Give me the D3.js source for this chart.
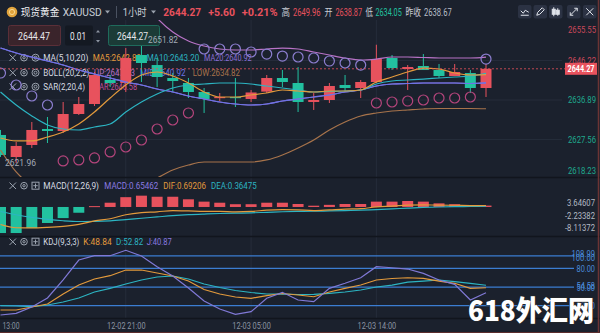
<!DOCTYPE html>
<html><head><meta charset="utf-8">
<script src="https://cdn.jsdelivr.net/npm/d3@7"></script>
<style>
html,body{margin:0;padding:0;background:#1b212d;overflow:hidden}
svg{display:block;font-family:Roboto,"Noto Sans CJK SC",sans-serif}
</style></head><body>
<svg id="c" width="600" height="333"></svg>
<script>
// ---- XAUUSD 1h candles, 12-02 13:00 .. 12-03 21:00 ----
const openP  = [2628.62,2623.41,2626.25,2630.03,2629.56,2633.58,2635.94,2641.62,2640.91,2647.53,2645.16,2642.09,2640.91,2638.78,2637.36,2637.60,2637.13,2638.87,2642.09,2640.91,2636.42,2636.89,2640.44,2639.73,2641.15,2646.82,2644.22,2644.93,2643.98,2642.56,2643.27,2639.73];
const highP  = [2629.80,2626.96,2631.69,2632.87,2636.42,2637.60,2643.51,2642.80,2649.18,2651.82,2646.82,2643.27,2642.09,2639.73,2638.54,2642.09,2639.25,2642.80,2643.98,2644.69,2638.54,2640.91,2642.80,2641.62,2649.96,2647.53,2645.16,2647.76,2645.40,2645.40,2643.98,2645.40];
const lowP   = [2623.41,2621.96,2625.54,2626.72,2629.09,2633.34,2635.47,2639.96,2638.78,2641.15,2639.96,2638.78,2637.36,2633.82,2636.65,2635.24,2636.42,2638.54,2639.96,2634.05,2634.53,2636.18,2638.78,2637.36,2640.91,2643.98,2639.25,2643.98,2642.09,2642.56,2638.54,2637.60];
const closeP = [2623.89,2626.02,2629.80,2629.56,2633.58,2635.94,2642.80,2640.91,2646.82,2645.64,2642.33,2641.38,2638.78,2637.13,2637.60,2637.36,2638.67,2642.09,2641.15,2636.42,2636.89,2640.20,2639.73,2641.15,2646.58,2644.45,2644.69,2643.98,2642.56,2643.51,2639.73,2644.27];

// moving averages
const ma5  = [2627.91,2627.20,2627.20,2628.14,2629.33,2631.22,2634.05,2637.36,2640.44,2642.80,2643.51,2642.56,2640.91,2638.78,2637.60,2637.60,2638.07,2638.54,2639.25,2639.02,2638.78,2639.02,2639.02,2639.25,2641.15,2642.33,2643.51,2644.45,2644.22,2643.27,2642.80,2642.89];
const ma10 = [2638.78,2635.71,2633.11,2630.98,2630.03,2629.80,2630.51,2631.22,2634.05,2636.42,2638.31,2639.73,2640.44,2640.67,2640.91,2640.91,2640.67,2640.20,2639.73,2639.25,2638.78,2638.90,2639.02,2639.25,2640.67,2641.38,2641.62,2641.85,2642.09,2642.33,2642.56,2643.20];
const ma20 = [2649.18,2648.00,2647.05,2646.11,2645.16,2643.98,2643.04,2642.09,2641.15,2640.44,2639.49,2638.78,2637.84,2637.13,2636.42,2635.94,2635.71,2635.94,2636.65,2637.13,2637.60,2638.07,2638.78,2639.25,2640.20,2640.67,2640.79,2640.91,2640.91,2640.91,2640.79,2640.92];
// Bollinger bands (mid = ma20)
const bollUp  = [2673.30,2675.19,2676.61,2677.08,2676.13,2673.77,2670.93,2667.62,2664.31,2661.00,2656.27,2652.97,2650.84,2649.66,2648.95,2648.71,2648.71,2648.95,2649.18,2648.95,2648.24,2647.53,2646.82,2646.35,2646.58,2647.06,2647.06,2646.94,2646.82,2646.82,2646.82,2647.03];
const bollLow = [2625.07,2619.87,2616.56,2614.20,2613.25,2613.25,2613.72,2614.43,2615.61,2616.56,2618.45,2620.34,2621.52,2622.23,2622.23,2622.23,2622.23,2622.71,2623.89,2625.54,2627.43,2629.80,2631.69,2633.11,2633.82,2634.29,2634.53,2634.76,2634.88,2634.88,2634.88,2634.82];
// parabolic SAR
const sar = [2643.27,2640.44,2637.84,2635.71,2622.47,2622.71,2623.18,2624.60,2625.78,2627.43,2630.03,2632.16,2633.82,2648.95,2648.95,2648.95,2648.24,2647.76,2647.29,2647.06,2646.82,2646.11,2645.64,2645.16,2636.18,2636.42,2636.65,2636.89,2637.36,2637.36,2637.60,2646.58];

// MACD(12,26,9)
const macdHist = [-12.2,-12.2,-9.9,-7.5,-5.2,-2.7,0.4,2.0,4.6,5.3,4.8,4.8,3.6,2.5,2.0,1.3,1.3,2.0,2.0,1.4,0.6,1.0,1.4,1.4,2.5,2.5,2.8,2.5,1.7,1.3,0.8,0.65462];
const dif = [-8.2,-9.73,-9.82,-9.56,-9.06,-8.15,-6.55,-5.50,-3.63,-2.62,-2.27,-1.67,-1.82,-2.06,-2.06,-2.25,-2.09,-1.49,-1.24,-1.36,-1.69,-1.36,-0.99,-0.81,0.05,0.36,0.86,1.02,0.84,0.80,0.65,0.69206];
const dea = [-2.1,-3.63,-4.87,-5.81,-6.46,-6.80,-6.75,-6.50,-5.93,-5.27,-4.67,-4.07,-3.62,-3.31,-3.06,-2.90,-2.74,-2.49,-2.24,-2.06,-1.99,-1.86,-1.69,-1.51,-1.20,-0.89,-0.54,-0.23,-0.01,0.15,0.25,0.36475];

// KDJ(9,3,3)
const kdjK = [13.1,13.1,17.9,22.7,38.8,53.2,62.9,68.2,77.3,77.3,72.5,67.7,59.6,46.0,38.8,34.0,31.9,36.1,39.6,37.2,34.4,42.0,47.9,53.2,61.3,63.7,64.9,64.0,59.6,56.0,47.9,48.84];
const kdjD = [20.0,19.5,18.4,21.1,25.9,32.4,42.0,47.9,54.8,61.3,66.1,67.7,62.9,54.8,49.2,44.4,41.2,38.8,38.5,38.0,38.3,39.9,42.0,45.2,50.0,53.2,58.0,59.6,61.3,58.8,56.0,52.82];
const kdjJ = [5.1,7.8,17.9,32.4,61.3,93.4,100.3,100.3,108.99,99.8,82.6,67.7,48.4,27.5,14.7,6.2,10.4,31.9,41.5,29.1,26.4,47.9,56.0,64.9,82.6,81.0,78.9,72.0,61.3,54.3,29.1,40.87];

// axis ticks and labels
const priceTicks = [2655.55,2646.22,2636.89,2627.56,2618.23];
const macdTicks = [3.64607,-2.23382,-8.11372];
const kdjLines = [100,80,50,20];
const kdjLabels = ["108.99","100.00","80.00","54.58","50.00","20.00"];
const kdjLabelAt = [100,100,80,50,50,20];
const kdjLabelNudge = [-1.8,1.6,0,-1.2,1.2,0];
const timeIdx = [0,8,16,24];
const timeLabels = ["13:00","12-02 21:00","12-03 05:00","12-03 14:00"];

const lastPrice = 2644.27;

const C = {
  bg:'#1b212d', grid:'#262d3b', up:'#e8525d', down:'#22c1a0', text:'#d6dae2', dim:'#8b93a1',
  ma5:'#e39a3c', ma10:'#2cb4c2', ma20:'#8a6fd6', mid:'#6d73e6', bup:'#b873c6', blow:'#a7734b',
  sarHi:'#8c7ed0', sarLo:'#b5457c', kline:'#3b7dd1', klab:'#4a8ad9'
};

const svg = d3.select('#c');
svg.append('rect').attr('width',600).attr('height',333).attr('fill',C.bg);

// text helper: fixed run width so labels sit exactly where they belong
function txt(parent, xx, y, s, o){
  o = o || {};
  const t = parent.append('text').attr('x',xx).attr('y',y).attr('dy','0.35em')
    .attr('font-size',o.size||9).attr('fill',o.fill||C.text)
    .attr('text-anchor',o.anchor||'start').text(s);
  if(o.weight) t.attr('font-weight',o.weight);
  if(o.family) t.attr('font-family',o.family);
  if(o.w) t.attr('textLength',o.w).attr('lengthAdjust','spacingAndGlyphs');
  return t;
}

const n = closeP.length;
const x = d3.scaleLinear().domain([0,n-1]).range([0.5,486]);
const yP = d3.scaleLinear().domain([2618.23,2655.55]).range([178.9,21.1]);
const yM = d3.scaleLinear().domain([-8.11372,3.64607]).range([224.3,199.2]);
const yK = d3.scaleLinear().domain([20,100]).range([305.7,255.9]);
const idx = d3.range(n);

const defs = svg.append('defs');
const clip = (id,y0,y1)=>defs.append('clipPath').attr('id',id).append('rect').attr('x',0).attr('y',y0).attr('width',540).attr('height',y1-y0);
clip('cMain',20,177); clip('cMacd',178,236); clip('cKdj',237,318);

// ---- grid ----
const grid = svg.append('g');
grid.selectAll('line.h').data(priceTicks.slice(1,4)).join('line')
  .attr('x1',0).attr('x2',562).attr('y1',d=>yP(d)).attr('y2',d=>yP(d))
  .attr('stroke',C.grid).attr('stroke-width',1);
grid.selectAll('line.v').data(timeIdx.slice(1)).join('line')
  .attr('x1',d=>x(d)).attr('x2',d=>x(d)).attr('y1',20).attr('y2',318)
  .attr('stroke',C.grid).attr('stroke-width',1);
[177.5,236.5,318.5].forEach(y=>svg.append('line').attr('x1',0).attr('x2',600).attr('y1',y).attr('y2',y).attr('stroke','#11151d').attr('stroke-width',1.5));

// ---- legend rows (beneath the marks) ----
function icons(y, third){
  const g = svg.append('g').attr('stroke','#9aa2ae').attr('fill','none').attr('stroke-width',1);
  g.append('path').attr('d',`M9.5,${y-3.5}L16,${y+3}M16,${y-3.5}L9.5,${y+3}`);
  g.append('circle').attr('cx',24).attr('cy',y-0.3).attr('r',3.3);
  g.append('circle').attr('cx',24).attr('cy',y-0.3).attr('r',1.2);
  if(third==='eye'){
    g.append('circle').attr('cx',35.5).attr('cy',y-0.3).attr('r',3.5);
    g.append('circle').attr('cx',35.5).attr('cy',y-0.3).attr('r',1.5);
  } else {
    g.append('rect').attr('x',32).attr('y',y-3.8).attr('width',7).attr('height',7);
    g.append('path').attr('d',`M35.5,${y-2.5}V${y+2}M33.3,${y-0.3}H37.7`);
  }
}
const leg = svg.append('g');
function legend(y, items){ items.forEach(([s,c,x0,x1])=>txt(leg,x0,y,s,{fill:c,w:x1-x0,size:9})); }
icons(58,'eye'); icons(73,'eye'); icons(87,'eye');
legend(58,[["MA(5,10,20)",C.text,43.3,88.3],["MA5:2642.89",C.ma5,92.7,141],["MA10:2643.20",C.ma10,146.7,199.3],["MA20:2640.92",C.ma20,204,251.7]]);
legend(73,[["BOLL(20,2,2)",C.text,43.3,89.3],["UP:2647.03",C.bup,94,135],["MID:2640.92",C.mid,140,185.5],["LOW:2634.82",C.blow,192.7,240]]);
legend(87,[["SAR(2,20,4)",C.text,43.3,85],["SAR:2646.58",'#c0509a',95,137]]);

// ---- main panel ----
const main = svg.append('g').attr('clip-path','url(#cMain)');
const candles = main.append('g');
candles.selectAll('line').data(idx).join('line')
  .attr('x1',i=>x(i)).attr('x2',i=>x(i))
  .attr('y1',i=>yP(highP[i])).attr('y2',i=>yP(lowP[i]))
  .attr('stroke',i=>closeP[i]>=openP[i]?C.up:C.down).attr('stroke-width',1);
candles.selectAll('rect').data(idx).join('rect')
  .attr('x',i=>x(i)-5.5).attr('width',11)
  .attr('y',i=>yP(Math.max(openP[i],closeP[i])))
  .attr('height',i=>Math.max(1.2,Math.abs(yP(openP[i])-yP(closeP[i]))))
  .attr('fill',i=>closeP[i]>=openP[i]?C.up:C.down);

const lineP = arr => d3.line().x((d,i)=>x(i)).y(d=>yP(d)).curve(d3.curveMonotoneX)(arr);
[[bollLow,C.blow],[bollUp,C.bup],[ma20,C.ma20],[ma20,C.mid],[ma10,C.ma10],[ma5,C.ma5]].forEach(([a,c])=>
  main.append('path').attr('d',lineP(a)).attr('fill','none').attr('stroke',c).attr('stroke-width',1.2));

// SAR dots: above price in downtrend, below in uptrend
main.selectAll('circle.sar').data(idx).join('circle')
  .attr('cx',i=>x(i)).attr('cy',i=>yP(sar[i])).attr('r',5)
  .attr('fill','none').attr('stroke-width',1.2)
  .attr('stroke',i=>sar[i]>closeP[i]?C.sarHi:C.sarLo);

// last price line
svg.append('line').attr('x1',0).attr('x2',565).attr('y1',yP(lastPrice)).attr('y2',yP(lastPrice))
  .attr('stroke',C.up).attr('stroke-dasharray','2,2').attr('stroke-width',1).attr('opacity',0.8);

// price axis
const pAxis = svg.append('g').attr('transform','translate(596,0)')
  .call(d3.axisRight(yP).tickValues(priceTicks).tickSize(0).tickFormat(d=>d.toFixed(2)));
pAxis.select('.domain').remove();
pAxis.selectAll('text').attr('x',0).attr('text-anchor','end').attr('font-size',9).attr('font-family','Roboto,sans-serif')
  .attr('textLength',28).attr('lengthAdjust','spacingAndGlyphs')
  .attr('fill',d=>d>lastPrice?'#c9485a':'#1fa98e')
  .attr('y',d=>{const y=yP(d); return y<30?30-y:(y>171?171-y:0);});
// current price tag
svg.append('rect').attr('x',565).attr('y',yP(lastPrice)-6).attr('width',32).attr('height',12).attr('fill',C.up);
txt(svg,581,yP(lastPrice),lastPrice.toFixed(2),{anchor:'middle',size:9,weight:700,fill:'#fff',w:27});

// ---- MACD panel ----
icons(186,'box');
legend(186,[["MACD(12,26,9)",C.text,43.3,99],["MACD:0.65462",'#8a7ae0',104.3,158.3],["DIF:0.69206",C.ma5,163.3,206],["DEA:0.36475",C.ma10,211,256.7]]);
const mg = svg.append('g').attr('clip-path','url(#cMacd)');
mg.selectAll('rect').data(idx).join('rect')
  .attr('x',i=>x(i)-5.5).attr('width',11)
  .attr('y',i=>Math.min(yM(0),yM(macdHist[i])))
  .attr('height',i=>Math.max(1,Math.abs(yM(macdHist[i])-yM(0))))
  .attr('fill',i=>macdHist[i]>=0?C.up:C.down);
const lineM = arr => d3.line().x((d,i)=>x(i)).y(d=>yM(d)).curve(d3.curveMonotoneX)(arr);
mg.append('path').attr('d',lineM(dea)).attr('fill','none').attr('stroke',C.ma10).attr('stroke-width',1.2);
mg.append('path').attr('d',lineM(dif)).attr('fill','none').attr('stroke',C.ma5).attr('stroke-width',1.2);
const mAxis = svg.append('g').attr('transform','translate(595,0)')
  .call(d3.axisRight(yM).tickValues(macdTicks).tickSize(0).tickFormat(d=>d.toFixed(5)));
mAxis.select('.domain').remove();
mAxis.selectAll('text').attr('x',0).attr('y',3.5).attr('text-anchor','end').attr('font-size',9).attr('fill','#b3bac4')
  .attr('font-family','Roboto,sans-serif').attr('textLength',d=>d<0?30:28).attr('lengthAdjust','spacingAndGlyphs');

// ---- KDJ panel ----
icons(242,'box');
legend(242,[["KDJ(9,3,3)",C.text,43.3,79.3],["K:48.84",C.ma5,83.3,111.7],["D:52.82",C.ma10,116,143.3],["J:40.87",'#8a7ae0',146.7,171.7]]);
svg.append('g').selectAll('line').data(kdjLines).join('line')
  .attr('x1',0).attr('x2',574).attr('y1',d=>yK(d)).attr('y2',d=>yK(d))
  .attr('stroke',C.kline).attr('stroke-width',1.3);
const kg = svg.append('g').attr('clip-path','url(#cKdj)');
const lineK = arr => d3.line().x((d,i)=>x(i)).y(d=>yK(d))(arr);
[[kdjD,C.ma10],[kdjK,C.ma5],[kdjJ,'#8079d6']].forEach(([a,c])=>
  kg.append('path').attr('d',lineK(a)).attr('fill','none').attr('stroke',c).attr('stroke-width',1.2));
const kl = svg.append('g');
kdjLabels.forEach((s,i)=>txt(kl,595,yK(kdjLabelAt[i])+kdjLabelNudge[i],s,{anchor:'end',size:9,fill:C.klab,w:s.length>5?23.5:18.5}));

// time axis
const tAxis = svg.append('g').attr('transform','translate(0,318)')
  .call(d3.axisBottom(x).tickValues(timeIdx).tickSize(0).tickFormat((d,i)=>timeLabels[i]));
tAxis.select('.domain').remove();
tAxis.selectAll('text').attr('y',8).attr('dy','0.35em').attr('font-size',8.5).attr('fill','#8c95a3').attr('font-family','Roboto,sans-serif')
  .attr('text-anchor',(d,i)=>i===0?'start':'middle').attr('x',(d,i)=>i===0?2-x(0):0)
  .attr('textLength',(d,i)=>i===0?17:38.5).attr('lengthAdjust','spacingAndGlyphs');

// ---- order-entry boxes ----
svg.append('rect').attr('x',8.5).attr('y',25.5).attr('width',52).attr('height',20).attr('rx',2).attr('fill','#3a242b').attr('stroke','#5b2f38');
txt(svg,34,36,'2644.47',{anchor:'middle',size:10,fill:'#e6e6ea',w:32});
svg.append('rect').attr('x',65).attr('y',25.5).attr('width',28).attr('height',20).attr('rx',2).attr('fill','#141922');
txt(svg,70,36,'0.01',{size:10,fill:'#e6e6ea',w:16});
svg.append('path').attr('d','M96,32.5l2,-2.5l2,2.5zM96,40l2,2.5l2,-2.5z').attr('fill','#8d95a2');
svg.append('rect').attr('x',108.5).attr('y',25.5).attr('width',51).attr('height',20).attr('rx',2).attr('fill','#1b3b37').attr('stroke','#1f6b5c');
txt(svg,132.5,36,'2644.27',{anchor:'middle',size:10,fill:'#e6e6ea',w:31});

// high / low annotations (on top of the entry boxes)
const iHi = d3.maxIndex(highP), iLo = d3.minIndex(lowP);
txt(svg,148,40,highP[iHi].toFixed(2),{size:9,fill:'#a3abb7',w:30});
txt(svg,5,163,lowP[iLo].toFixed(2),{size:9,fill:'#a3abb7',w:31});

// ---- header bar ----
svg.append('circle').attr('cx',12).attr('cy',12).attr('r',5.3).attr('fill','#e2a43c');
svg.append('circle').attr('cx',12).attr('cy',12).attr('r',2.6).attr('fill','none').attr('stroke','#fbe3a6').attr('stroke-width',0.8);
const hdr = svg.append('g');
[["现货黄金",'#f0f0f2',20.7,59.3,400],["XAUUSD",'#c9ced6',62.7,101.7,400],["1小时",'#c9ced6',122.7,146.7,400],
 ["2644.27",C.up,163.3,201,700],["+5.60",C.up,208.3,235,700],["+0.21%",C.up,241.7,277.7,700],
 ["高",'#c9ced6',281.5,290,400],["2649.96",C.up,293,320.5,400],["开",'#c9ced6',324.5,332.5,400],["2638.87",C.up,335.5,362,400],
 ["低",'#c9ced6',365.5,373,400],["2634.05",C.down,375.5,401.7,400],["昨收",'#c9ced6',405.5,421,400],["2638.67",'#b8bec8',424,451.7,400]]
 .forEach(([s,c,x0,x1,w])=>txt(hdr,x0,12,s,{fill:c,weight:w,w:x1-x0,size:/[\u4e00-\u9fff]/.test(s)?10:11}));
svg.append('path').attr('d','M105,10.5h5l-2.5,3z').attr('fill','#9aa2ae');
svg.append('path').attr('d','M151,10.5h5l-2.5,3z').attr('fill','#9aa2ae');
svg.append('line').attr('x1',116.5).attr('x2',116.5).attr('y1',6).attr('y2',18).attr('stroke','#4a5261');
// toolbar buttons
const btnX = [518,533.5,549,567,583];
const btn = svg.append('g');
btnX.forEach((bx,k)=>{
  btn.append('rect').attr('x',bx).attr('y',5).attr('width',13.5).attr('height',13.5).attr('rx',2).attr('fill','#2b3243');
  const cx=bx+6.75, cy=11.75, g=btn.append('g').attr('stroke','#dfe3ea').attr('fill','none').attr('stroke-width',1);
  if(k===0){ g.append('path').attr('d',`M${cx-4},${cy+3.5}H${cx+4}M${cx-4},${cy-1}l2.5,2.5l2,-3l3.5,2`); }
  if(k===1){ g.append('path').attr('d',`M${cx-3.5},${cy+3.5}l1,-3l4.5,-4.5l2,2l-4.5,4.5z`); }
  if(k===2){ g.append('rect').attr('x',cx-3.5).attr('y',cy-2.5).attr('width',3).attr('height',5).attr('fill','#dfe3ea');
             g.append('rect').attr('x',cx+0.5).attr('y',cy-1.5).attr('width',3).attr('height',4).attr('fill','#dfe3ea');
             g.append('path').attr('d',`M${cx-2},${cy-4.5}V${cy+4.5}M${cx+2},${cy-3.5}V${cy+4}`); }
  if(k===3){ g.append('path').attr('d',`M${cx-3.5},${cy+3.5}L${cx+3.5},${cy-3.5}M${cx+0.5},${cy-3.5}H${cx+3.5}V${cy-0.5}M${cx-3.5},${cy+0.5}V${cy+3.5}H${cx-0.5}`); }
  if(k===4){ g.append('path').attr('d',`M${cx-3.5},${cy-3.5}L${cx+3.5},${cy+3.5}M${cx+3.5},${cy-3.5}L${cx-3.5},${cy+3.5}`); }
});

// ---- watermark ----
svg.append('text').attr('x',468).attr('y',321).attr('font-size',28).attr('font-weight',900)
  .attr('font-family','"Noto Sans CJK SC",sans-serif').attr('fill','#ffffff')
  .attr('stroke','#2a2a2a').attr('stroke-width',1.2).attr('paint-order','stroke')
  .attr('textLength',126).attr('lengthAdjust','spacingAndGlyphs')
  .text('618外汇网');

// frame edges
svg.append('line').attr('x1',598.5).attr('x2',598.5).attr('y1',0).attr('y2',333).attr('stroke','#6b3434').attr('stroke-width',1.5);
svg.append('line').attr('x1',0).attr('x2',600).attr('y1',332.5).attr('y2',332.5).attr('stroke','#5b2d2d').attr('stroke-width',1);
</script>
</body></html>
